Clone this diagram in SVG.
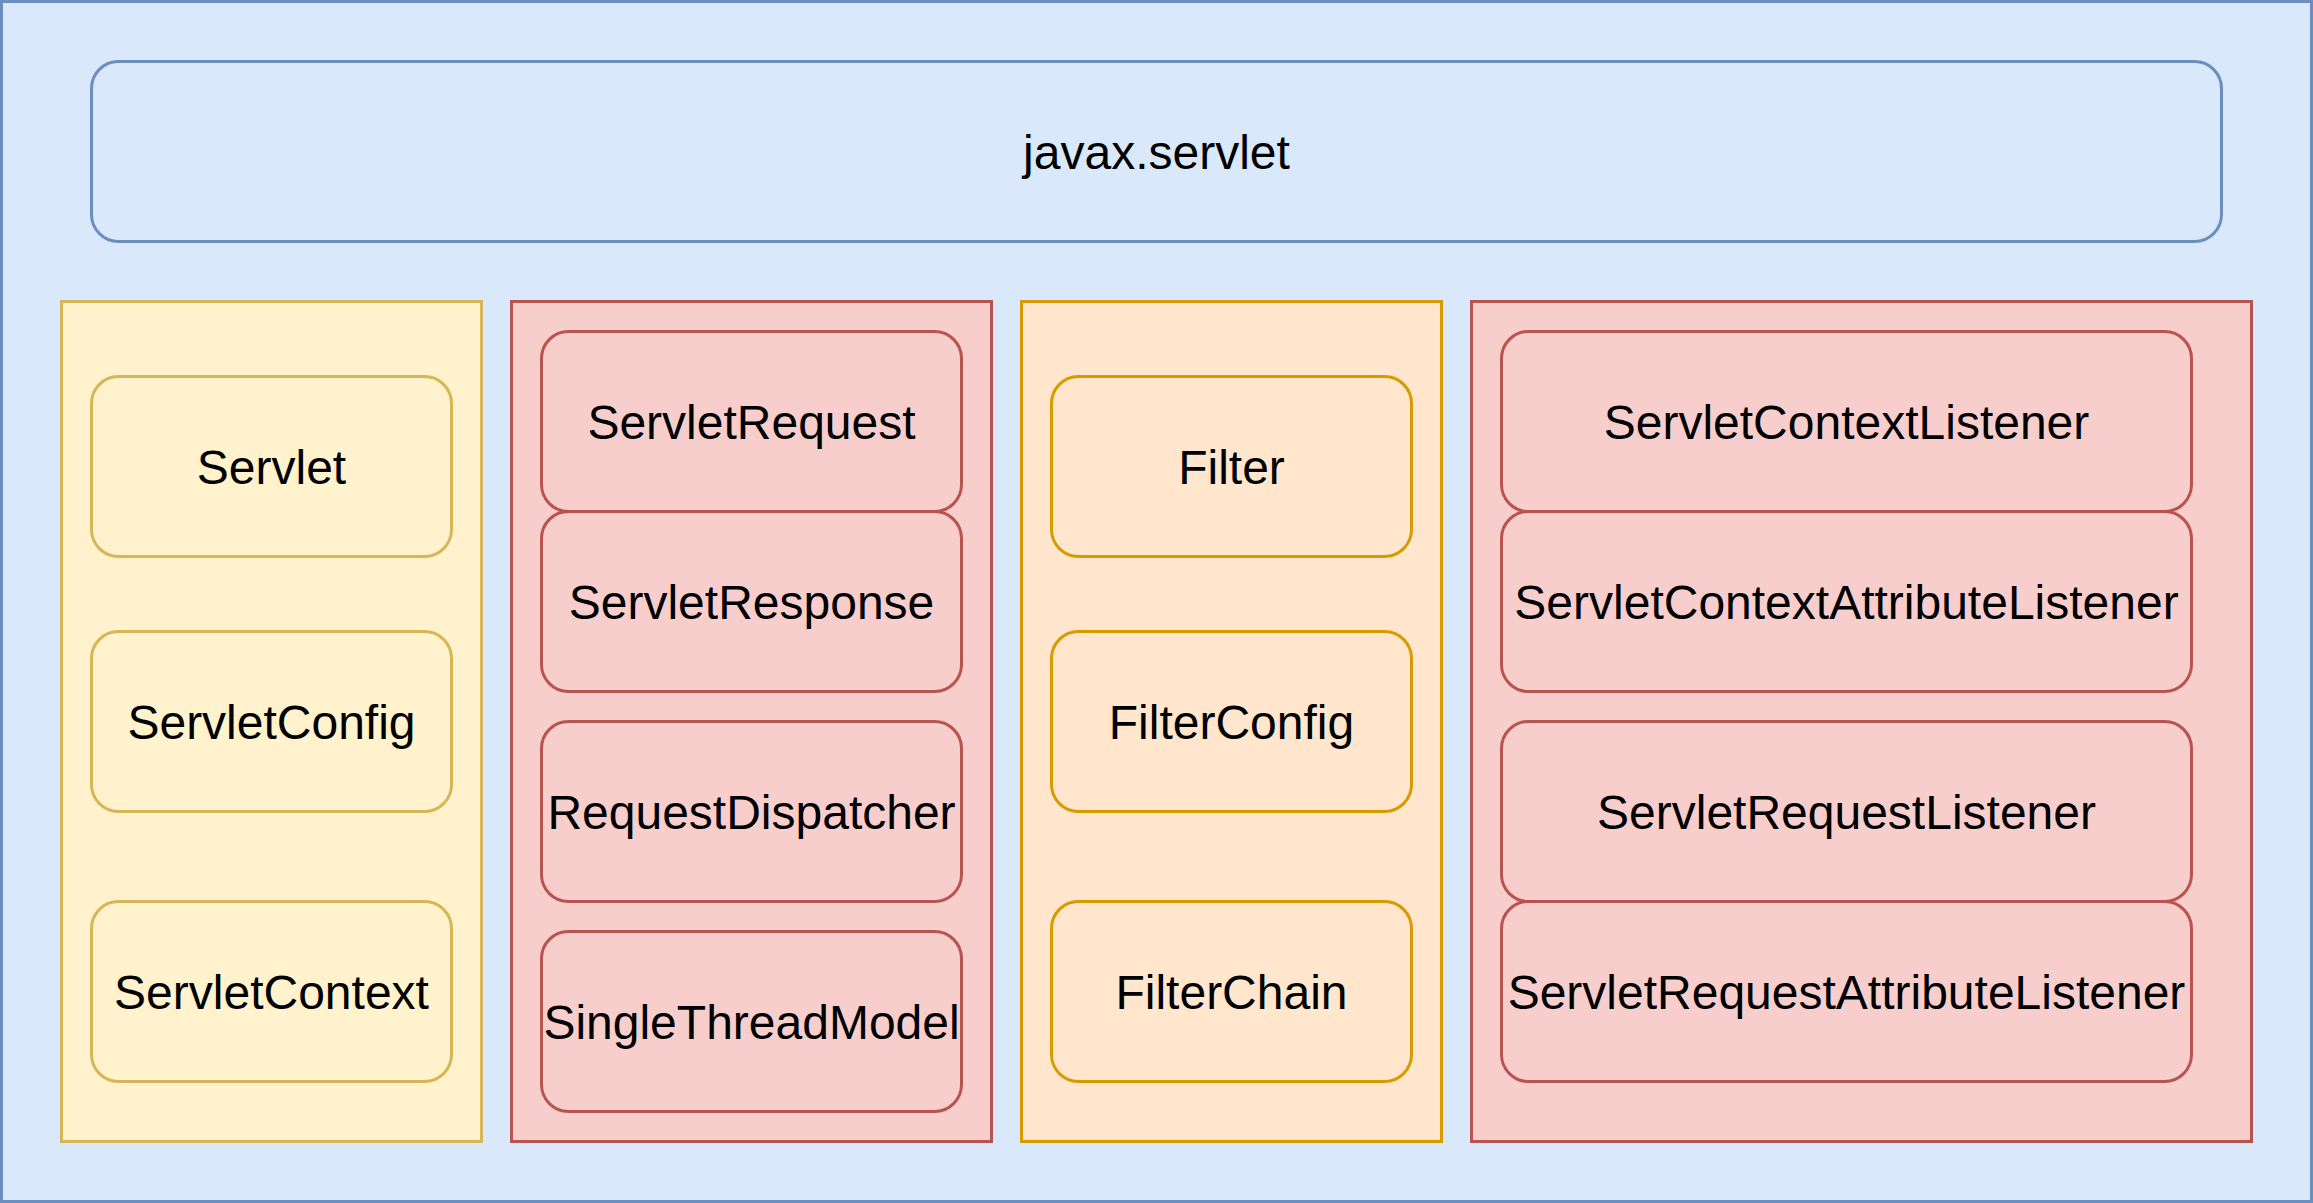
<svg xmlns="http://www.w3.org/2000/svg" width="2313" height="1203" viewBox="0 0 2313 1203">
<style>
.blue{fill:#dae8fc;stroke:#6c8ebf;stroke-width:1}
.yel{fill:#fff2cc;stroke:#d6b656;stroke-width:1}
.red{fill:#f8cecc;stroke:#b85450;stroke-width:1}
.org{fill:#ffe6cc;stroke:#d79b00;stroke-width:1}
text{font-family:"Liberation Sans",Arial,Helvetica,sans-serif;font-size:16px;fill:#000;text-anchor:middle}
</style>
<g transform="translate(1.5,1.5) scale(3)">
<g id="outer"><rect class="blue" x="0" y="0" width="770" height="400"/></g>
<g id="javax-servlet"><rect class="blue" x="30" y="20" width="710" height="60" rx="9" ry="9"/><text x="385" y="55.9">javax.servlet</text></g>
<g id="col-servlet"><rect class="yel" x="20" y="100" width="140" height="280"/></g>
<g id="col-request"><rect class="red" x="170" y="100" width="160" height="280"/></g>
<g id="col-filter"><rect class="org" x="340" y="100" width="140" height="280"/></g>
<g id="col-listener"><rect class="red" x="490" y="100" width="260" height="280"/></g>
<g id="servlet"><rect class="yel" x="30" y="125" width="120" height="60" rx="9" ry="9"/><text x="90" y="160.9">Servlet</text></g>
<g id="servletconfig"><rect class="yel" x="30" y="210" width="120" height="60" rx="9" ry="9"/><text x="90" y="245.9">ServletConfig</text></g>
<g id="servletcontext"><rect class="yel" x="30" y="300" width="120" height="60" rx="9" ry="9"/><text x="90" y="335.9">ServletContext</text></g>
<g id="servletrequest"><rect class="red" x="180" y="110" width="140" height="60" rx="9" ry="9"/><text x="250" y="145.9">ServletRequest</text></g>
<g id="servletresponse"><rect class="red" x="180" y="170" width="140" height="60" rx="9" ry="9"/><text x="250" y="205.9">ServletResponse</text></g>
<g id="requestdispatcher"><rect class="red" x="180" y="240" width="140" height="60" rx="9" ry="9"/><text x="250" y="275.9">RequestDispatcher</text></g>
<g id="singlethreadmodel"><rect class="red" x="180" y="310" width="140" height="60" rx="9" ry="9"/><text x="250" y="345.9">SingleThreadModel</text></g>
<g id="filter"><rect class="org" x="350" y="125" width="120" height="60" rx="9" ry="9"/><text x="410" y="160.9">Filter</text></g>
<g id="filterconfig"><rect class="org" x="350" y="210" width="120" height="60" rx="9" ry="9"/><text x="410" y="245.9">FilterConfig</text></g>
<g id="filterchain"><rect class="org" x="350" y="300" width="120" height="60" rx="9" ry="9"/><text x="410" y="335.9">FilterChain</text></g>
<g id="servletcontextlistener"><rect class="red" x="500" y="110" width="230" height="60" rx="9" ry="9"/><text x="615" y="145.9">ServletContextListener</text></g>
<g id="servletcontextattributelistener"><rect class="red" x="500" y="170" width="230" height="60" rx="9" ry="9"/><text x="615" y="205.9">ServletContextAttributeListener</text></g>
<g id="servletrequestlistener"><rect class="red" x="500" y="240" width="230" height="60" rx="9" ry="9"/><text x="615" y="275.9">ServletRequestListener</text></g>
<g id="servletrequestattributelistener"><rect class="red" x="500" y="300" width="230" height="60" rx="9" ry="9"/><text x="615" y="335.9">ServletRequestAttributeListener</text></g>
<g id="connectors"></g>
</g>
</svg>
